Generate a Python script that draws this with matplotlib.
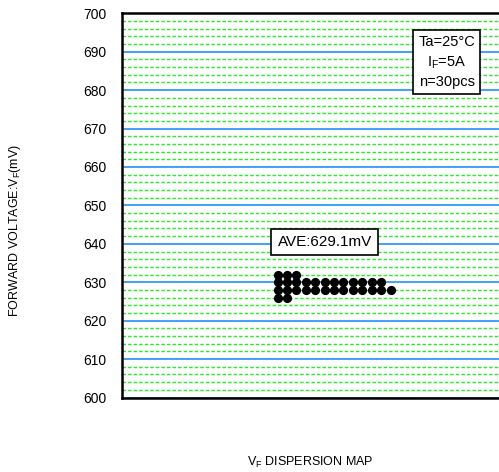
import numpy as np
import matplotlib
matplotlib.use('Agg')
import matplotlib.pyplot as plt

plt.rcParams['font.family'] = ['Liberation Sans', 'DejaVu Sans']
plt.rcParams['mathtext.fontset'] = 'custom'
plt.rcParams['mathtext.rm'] = 'Liberation Sans'

# forward voltage bins (mV) and number of samples in each
vf_values = [632, 630, 628, 626]
vf_counts = [3, 12, 13, 2]
average = 629.1
y_ticks = list(range(600, 701, 10))
conditions = ['Ta=25°C', 'I$\\mathregular{_F}$=5A', 'n=30pcs']

fig = plt.figure(figsize=(4.99, 4.72), dpi=100)
ax = fig.add_axes([0.2445, 0.1578, 0.7555, 0.814])

# dots stacked sideways, one per sample
x0 = 16.5
for v, c in zip(vf_values, vf_counts):
    xs = x0 + np.arange(c)
    ax.scatter(xs, [v] * c, s=44, color='black', zorder=3, linewidths=0)

ax.set_xlim(0, 40)
ax.set_ylim(600, 700)
ax.set_xticks([])
ax.set_yticks(y_ticks)
ax.set_yticks(np.arange(600, 701, 2), minor=True)
ax.tick_params(axis='y', which='both', length=0, pad=11, labelsize=10)

ax.grid(axis='y', which='minor', color='#22ee22', linestyle=(0, (2.5, 1.5)), linewidth=1)
ax.grid(axis='y', which='major', color='#3fa2f5', linestyle='-', linewidth=1.4)
ax.set_axisbelow(True)

for side in ['left', 'bottom', 'top']:
    ax.spines[side].set_linewidth(1.8)
ax.spines['right'].set_visible(False)

ax.text(21.5, 640.5, 'AVE:%.1fmV' % average, ha='center', va='center', fontsize=11,
        bbox=dict(boxstyle='square,pad=0.4', facecolor='white', edgecolor='black', linewidth=1.2),
        zorder=4)

ax.text(0.862, 0.873, '\n'.join(conditions), transform=ax.transAxes, ha='center', va='center',
        fontsize=10.5, linespacing=1.4,
        bbox=dict(boxstyle='square,pad=0.35', facecolor='white', edgecolor='black', linewidth=1.2),
        zorder=4)

fig.text(15 / 499, 1 - 230 / 472, 'FORWARD VOLTAGE:V$\\mathregular{_F}$(mV)', rotation=90,
         ha='center', va='center', fontsize=9)
fig.text(310 / 499, 1 - 462 / 472, 'V$\\mathregular{_F}$ DISPERSION MAP', ha='center', va='center',
         fontsize=9)

fig.savefig('out.png', dpi=100)
